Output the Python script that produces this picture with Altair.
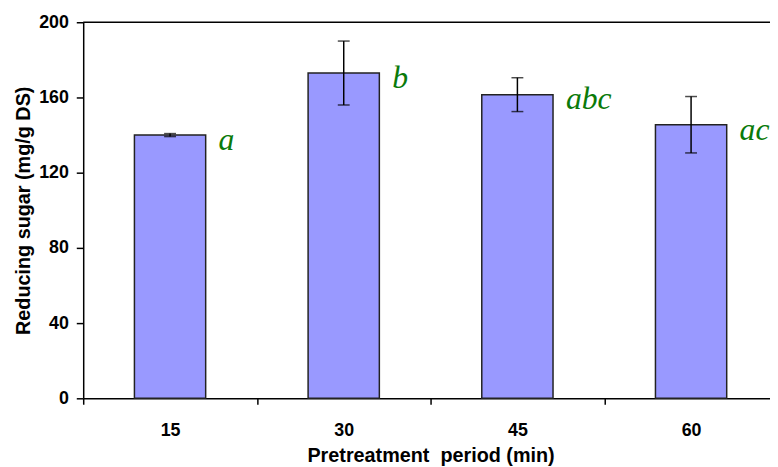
import altair as alt
import pandas as pd

periods = ["15", "30", "45", "60"]
sugar = [140.0, 173.0, 161.5, 145.5]
err = [0.8, 17.0, 9.0, 15.0]
letters = ["a", "b", "abc", "ac"]

df = pd.DataFrame({
    "period": periods,
    "sugar": sugar,
    "lo": [s - e for s, e in zip(sugar, err)],
    "hi": [s + e for s, e in zip(sugar, err)],
    "letter": letters,
})

xscale = alt.Scale(domain=periods, paddingInner=0, paddingOuter=0)
x = alt.X("period:N", scale=xscale, sort=periods,
          axis=alt.Axis(title="Pretreatment\u00a0 period (min)", labelAngle=0,
                        tickBand="extent", tickSize=6, labelPadding=18,
                        titlePadding=6, labelFontSize=18, titleFontSize=20))
yscale = alt.Scale(domain=[0, 200], nice=False)
y = alt.Y("sugar:Q", scale=yscale,
          axis=alt.Axis(title="Reducing sugar (mg/g DS)", values=[0, 40, 80, 120, 160, 200],
                        tickSize=7, labelPadding=8, titlePadding=5,
                        labelFontSize=18, titleFontSize=20, grid=False))

base = alt.Chart(df)

bars = base.mark_bar(size=72, color="#9999FF", stroke="#222222", strokeWidth=1.5).encode(x=x, y=y)
rules = base.mark_rule(color="black", strokeWidth=1.5).encode(x=x, y="lo:Q", y2="hi:Q")
caps_hi = base.mark_tick(color="black", size=12, thickness=1.5, orient="horizontal").encode(x=x, y=alt.Y("hi:Q", scale=yscale))
caps_lo = base.mark_tick(color="black", size=12, thickness=1.5, orient="horizontal").encode(x=x, y=alt.Y("lo:Q", scale=yscale))
labels = base.mark_text(font="Liberation Serif", fontStyle="italic", fontSize=32,
                        color="#0a7a0a", align="left", dx=49, dy=5).encode(
    x=x, y=alt.Y("sugar:Q", scale=yscale), text="letter:N")
top = alt.Chart(pd.DataFrame({"v": [200]})).mark_rule(color="black", strokeWidth=1.5).encode(
    y=alt.Y("v:Q", scale=yscale), x=alt.value(0), x2=alt.value(702))

chart = alt.layer(bars, rules, caps_hi, caps_lo, labels, top).properties(
    width=702, height=380,
    autosize=alt.AutoSizeParams(type="none"),
    padding={"left": 76, "top": 12, "right": -8, "bottom": 67},
).configure_view(stroke=None).configure_axis(
    labelFont="Liberation Sans", titleFont="Liberation Sans",
    labelFontWeight="bold", titleFontWeight="bold",
    labelColor="black", titleColor="black",
    domainColor="black", tickColor="black", domainWidth=1.5, tickWidth=1.5,
)

chart.save("out.html", embed_options={"renderer": "svg", "actions": False})
